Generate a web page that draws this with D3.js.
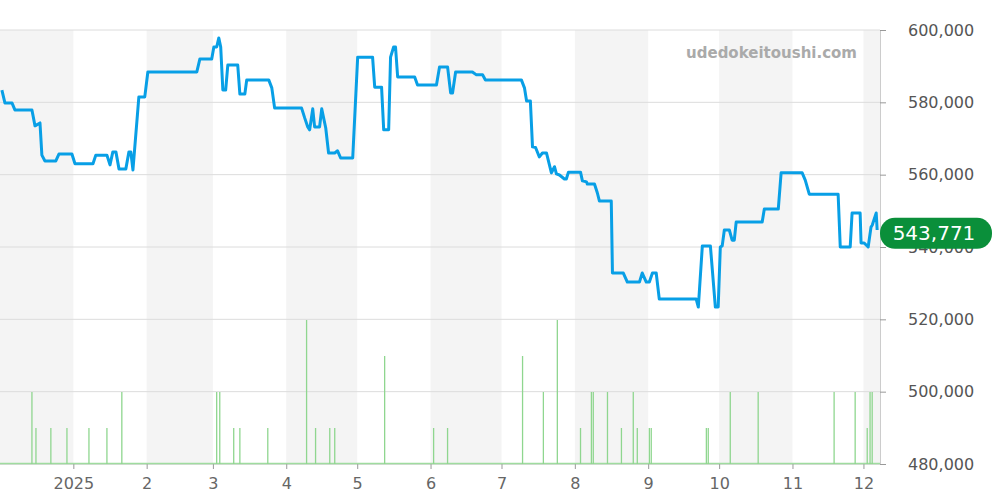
<!DOCTYPE html>
<html><head><meta charset="utf-8">
<script src="https://cdn.jsdelivr.net/npm/d3@7"></script>
<style>body{margin:0;background:#fff}svg{display:block;font-family:"DejaVu Sans",sans-serif}</style>
</head><body><svg id="c" width="1000" height="500"></svg>
<script>
// days since 2024-12-01 and prices
const lineDays=[0.8,2.1,5.1,6.3,13.5,14.8,16.9,17.7,19,23.6,24.9,30.4,31.7,39.3,40.5,45.2,46.5,47.7,49,50.3,53.2,54.5,55.3,56.2,57.9,58.7,61.2,62.5,83.2,84.5,89.5,90.4,91.6,92.5,93.3,94.2,95.4,96.3,100.5,101.4,103.5,104.3,113.6,114.9,116.1,127.5,128.8,130.1,130.9,132.2,133,135.1,136,137.7,138.9,141.5,142.7,144,149.1,151.2,157.5,158.4,161.3,162.2,164.3,165.1,166.4,167.2,168.1,175.3,176.5,183.7,184.5,185.8,189.2,190.5,191.3,192.6,199.7,201.4,204,205.2,220.4,221.7,222.6,224.2,225.1,226.4,228,229.3,231,233.1,234.4,235.2,236.5,238.6,239.4,240.3,245.4,246.2,247.9,248.3,251.3,252.5,253.4,258.4,258.9,263.5,265.2,269.4,270.3,271.5,273.2,274.5,275.8,277.4,278.7,294.3,295.2,296.9,300.3,302.4,303.6,304.5,305.3,306.2,308.3,309.5,310.4,311.2,322.2,323.1,329,330.2,339.1,340.4,342.1,354.3,355.2,359.4,360.2,363.6,364,365.3,367,368.2,368.7,370.4,370.8];
const lineValues=[583400,579800,579800,577900,577900,573500,574300,565400,563800,563800,565700,565700,563000,563000,565400,565400,562700,566300,566300,561600,561600,566300,566300,561300,575000,581500,581500,588400,588400,592000,592000,595300,595300,597800,595300,583400,583400,590300,590300,582300,582300,586200,586200,584000,578400,578400,575700,573200,572400,578200,573200,573200,578200,572900,566000,566000,566600,564600,564600,592500,592500,584200,584200,572400,572400,592500,595300,595300,587000,587000,584800,584800,584800,589800,589800,582600,582600,588400,588400,587600,587600,586200,586200,584000,580400,580400,567700,567500,564900,566000,566000,560500,562200,560200,559900,558800,558800,560700,560700,558300,558000,557400,557400,555000,552700,552700,532800,532800,530300,530300,530300,532800,530300,530300,532800,532800,525600,525600,523400,540300,540300,523400,523400,540000,540300,544700,544700,541900,541900,546900,546900,550500,550500,560500,560500,558500,554600,554600,540000,540000,549400,549400,541100,541100,540000,545500,546000,549400,544700];
const volDays=[13.5,15.2,21.5,28.3,37.6,45.2,51.5,91.6,92.9,98.8,101.4,113.2,129.6,133.4,139.4,141.5,162.6,183.3,189.2,220.9,229.7,235.6,245.4,250,250.8,256.8,262.7,267.7,269.4,274.5,275.3,298.6,299.4,308.7,320.5,352.6,361.5,366.6,367.8,368.7];
const volCounts=[2,1,1,1,1,1,2,2,2,1,1,1,4,1,1,1,3,1,1,3,2,4,1,2,2,2,1,2,1,1,1,1,1,2,2,2,2,1,2,2];
const yTicks=[480000,500000,520000,540000,560000,580000,600000];
const monthLabels=["2025","2","3","4","5","6","7","8","9","10","11","12"];
const lastValue=543771;
const site="udedokeitoushi.com";

const start=new Date(2024,11,1);
const dt=d=>new Date(start.getTime()+d*864e5);
const svg=d3.select("#c");
const W=880;
const x=d3.scaleTime().domain([start,new Date(2025,11,8)]).range([0,W]);
const y=d3.scaleLinear().domain([480000,600000]).range([464,30]);
const yv=d3.scaleLinear().domain([0,4]).range([464,320]);

const months=d3.timeMonth.range(new Date(2024,11,1),new Date(2026,0,1));
months.forEach((m,i)=>{ if(m.getMonth()%2===1){
  const x0=x(m),x1=Math.min(W,x(d3.timeMonth.offset(m,1)));
  if(x1>x0) svg.append("rect").attr("x",x0).attr("y",30).attr("width",x1-x0).attr("height",434).attr("fill","#f4f4f4");
}});
svg.append("g").selectAll("line").data(yTicks).join("line")
 .attr("x1",0).attr("x2",W).attr("y1",d=>y(d)).attr("y2",d=>y(d)).attr("stroke","#dcdcdc");
const ya=svg.append("g").attr("transform",`translate(${W},0)`).call(d3.axisRight(y).tickValues(yTicks).tickSize(6).tickFormat(d3.format(",")));
ya.select(".domain").attr("stroke","#ccc");
ya.selectAll(".tick line").attr("stroke","#999");
ya.selectAll("text").attr("x",28).attr("font-size",16).attr("fill","#555").attr("font-family","DejaVu Sans");
const mt=d3.timeMonth.range(new Date(2025,0,1),new Date(2025,11,2));
const xa=svg.append("g").attr("transform","translate(0,464)").call(d3.axisBottom(x).tickValues(mt).tickSize(5).tickFormat((d,i)=>monthLabels[i]));
xa.select(".domain").attr("stroke","#ccc").attr("d","M0,0H"+W);
xa.selectAll(".tick line").attr("stroke","#999");
xa.selectAll("text").attr("y",14).attr("font-size",16).attr("fill","#666").attr("font-family","DejaVu Sans");
svg.append("line").attr("x1",0).attr("x2",W).attr("y1",463.5).attr("y2",463.5).attr("stroke","#9fdc9f").attr("stroke-width",1.5);
svg.append("g").selectAll("line").data(volDays).join("line")
 .attr("x1",d=>x(dt(d))).attr("x2",d=>x(dt(d))).attr("y1",464).attr("y2",(d,i)=>yv(volCounts[i]))
 .attr("stroke","#8fd68f").attr("stroke-width",1.3);
svg.append("text").attr("x",857).attr("y",58).attr("text-anchor","end").attr("font-size",15).attr("font-weight","bold").attr("fill","#aaa").text(site);
const pts=lineDays.map((d,i)=>[x(dt(d)),y(lineValues[i])]);
svg.append("path").attr("d",d3.line()(pts)).attr("fill","none").attr("stroke","#089fe6").attr("stroke-width",3).attr("stroke-linejoin","round");
const by=y(lastValue);
svg.append("rect").attr("x",880).attr("y",by-15.5).attr("width",112).attr("height",31).attr("rx",15).attr("fill","#0a8f3a");
svg.append("text").attr("x",934).attr("y",by+7).attr("text-anchor","middle").attr("font-size",20).attr("fill","#fff").text(d3.format(",")(lastValue));
</script></body></html>
